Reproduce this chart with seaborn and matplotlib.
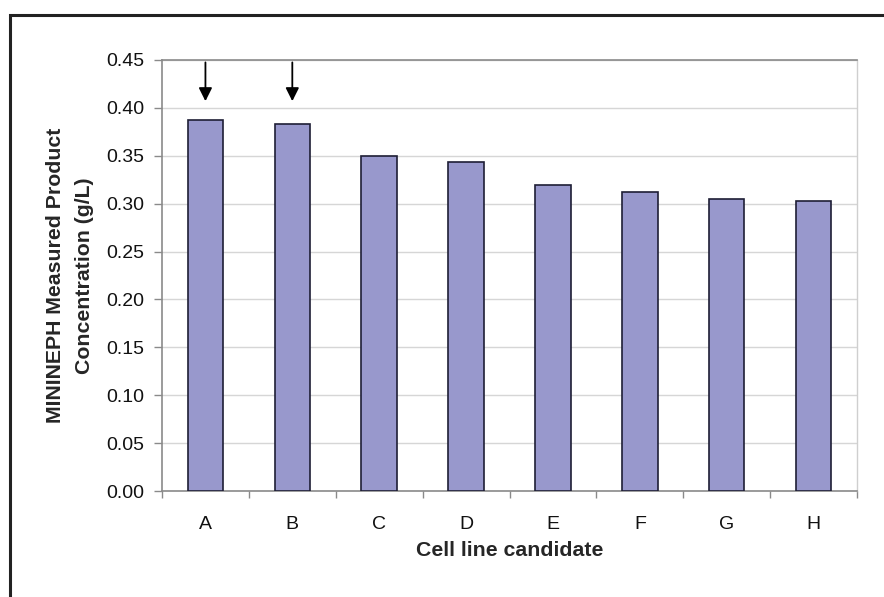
import matplotlib
matplotlib.use("Agg")
import matplotlib.pyplot as plt
import seaborn as sns
import pandas as pd
from matplotlib.patches import Rectangle
from matplotlib.ticker import FixedLocator

# Product titre for each candidate cell line
candidates = ["A", "B", "C", "D", "E", "F", "G", "H"]
concentration = [0.387, 0.383, 0.350, 0.344, 0.320, 0.312, 0.305, 0.303]
# Candidates picked for further work (marked with arrows)
highlighted = ["A", "B"]
y_ticks = [0.00, 0.05, 0.10, 0.15, 0.20, 0.25, 0.30, 0.35, 0.40, 0.45]

sns.set_style("white")
plt.rcParams["font.family"] = ["Liberation Sans", "DejaVu Sans"]

fig = plt.figure(figsize=(8.84, 5.97), dpi=100)
ax = fig.add_axes([162 / 884, 1 - 491 / 597, (857 - 162) / 884, (491 - 60) / 597])

df = pd.DataFrame({"candidate": candidates, "conc": concentration})
sns.barplot(data=df, x="candidate", y="conc", color="#9898cc", saturation=1,
            width=0.41, edgecolor="#1e1e35", linewidth=1.2, ax=ax, zorder=3)

ax.set_ylim(y_ticks[0], y_ticks[-1])
ax.set_xlim(-0.5, len(candidates) - 0.5)
ax.set_yticks(y_ticks)
ax.set_yticklabels([f"{t:.2f}" for t in y_ticks])
ax.yaxis.grid(True, color="#d6d6d6", lw=1.0, zorder=0)
ax.set_axisbelow(True)

# Category ticks sit between the bars
ax.xaxis.set_minor_locator(FixedLocator([i - 0.5 for i in range(len(candidates) + 1)]))
ax.tick_params(axis="x", which="major", length=0, pad=18, labelsize=14, colors="#111111")
ax.tick_params(axis="x", which="minor", bottom=True, length=5, width=1, color="#8a8a8a")
ax.tick_params(axis="y", which="major", left=True, length=6, width=1, color="#8a8a8a",
               pad=7, labelsize=14, labelcolor="#111111")

for side in ["left", "bottom", "top"]:
    ax.spines[side].set_color("#8a8a8a")
    ax.spines[side].set_linewidth(1.2)
ax.spines["right"].set_color("#cfcfcf")
ax.spines["right"].set_linewidth(1.0)

ax.set_xlabel("Cell line candidate", fontsize=15.3, fontweight="bold", labelpad=6)
ax.set_ylabel("MININEPH Measured Product\nConcentration (g/L)", fontsize=15.3,
              fontweight="bold", labelpad=8.5, linespacing=1.7)

for cat in highlighted:
    i = candidates.index(cat)
    ax.annotate("", xy=(i, 0.407), xytext=(i, 0.4475),
                arrowprops=dict(arrowstyle="-|>", color="black", lw=1.3,
                                mutation_scale=20, shrinkA=0, shrinkB=0),
                zorder=5)

# Outer frame around the figure
fig.add_artist(Rectangle((10 / 884, -0.1), 1.2, (1 - 15 / 597) + 0.1,
                         transform=fig.transFigure, fill=False,
                         edgecolor="#222222", lw=2.2))

fig.savefig("out.png", dpi=100)
